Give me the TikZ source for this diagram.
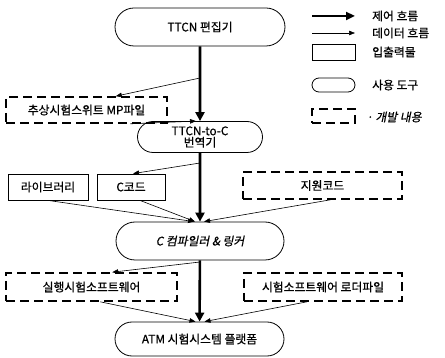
\documentclass[tikz,border=0pt]{standalone}
\usepackage{fontspec}
\setmainfont{Noto Sans CJK KR}[FakeBold=0.6]
\newfontfamily\krslant{Noto Sans CJK KR}[FakeSlant=0.2,FakeBold=0.6]
\usetikzlibrary{arrows.meta,shapes.misc,calc}
\begin{document}
\begin{tikzpicture}[x=1pt,y=-1pt,
  every node/.style={font=\fontsize{11.8}{13.5}\selectfont},
  io/.style={draw,line width=0.8pt,inner sep=0pt},
  dev/.style={draw,line width=1.6pt,dash pattern=on 9pt off 5pt,inner sep=0pt},
  tool/.style={draw,rounded rectangle,line width=0.8pt,inner sep=0pt},
  ctrl/.style={line width=2.6pt,-{Triangle[length=9pt,width=9pt]}},
  data/.style={line width=0.6pt,-{Triangle[length=6pt,width=4.5pt]}},
  lbl/.style={anchor=west,inner sep=0pt}]
\useasboundingbox (0,0) rectangle (445,358);

% main nodes
\node[tool,minimum width=170pt,minimum height=38pt] (ttcn) at (200,27) {TTCN 편집기};
\node[dev,minimum width=161pt,minimum height=26pt] (mp) at (86.5,110) {추상시험스위트 MP파일};
\node[tool,minimum width=125pt,minimum height=31pt,align=center] (t2c) at (200,137)
  {TTCN-to-C\\[-2pt]번역기};
\node[io,minimum width=80pt,minimum height=26pt] (lib) at (48,187) {라이브러리};
\node[io,minimum width=68pt,minimum height=26pt] (ccode) at (131,187) {C코드};
\node[dev,minimum width=159pt,minimum height=27pt] (sup) at (322.5,185.5) {지원코드};
\node[tool,minimum width=168pt,minimum height=38pt] (cc) at (200,241) {\krslant C 컴파일러 \& 링커};
\node[dev,minimum width=171pt,minimum height=28pt] (exe) at (91.5,287) {실행시험소프트웨어};
\node[dev,minimum width=158pt,minimum height=28pt] (loader) at (323,287) {시험소프트웨어 로더파일};
\node[tool,minimum width=169pt,minimum height=34pt] (atm) at (199.5,339) {ATM 시험시스템 플랫폼};

% control flow
\draw[ctrl] (ttcn) -- (t2c);
\draw[ctrl] (t2c) -- (cc);
\draw[ctrl] (cc) -- (atm);

% branch points on control flow
\coordinate (b1) at (200,78);
\coordinate (b2) at (200,163);
\coordinate (b3) at (200,262);

% data flow
\draw[data] (b1) -- ($(mp.north west)!0.68!(mp.north east)$);
\draw[data] ($(mp.south west)!0.77!(mp.south east)$) -- ($(t2c.north)+(-4,0)$);
\draw[data] (b2) -- ($(ccode.north west)!0.53!(ccode.north east)$);
\draw[data] (lib.south) -- ($(cc.north)+(-6,0)$);
\draw[data] ($(ccode.south west)!0.63!(ccode.south east)$) -- ($(cc.north)+(-5,0)$);
\draw[data] ($(sup.south west)!0.55!(sup.south east)$) -- ($(cc.north)+(4,0)$);
\draw[data] (b3) -- ($(exe.north west)!0.62!(exe.north east)$);
\draw[data] ($(exe.south west)!0.55!(exe.south east)$) -- ($(atm.north)+(-4,0)$);
\draw[data] ($(loader.south west)!0.4!(loader.south east)$) -- ($(atm.north)+(5,0)$);

% legend
\coordinate (la1) at (312,16);
\coordinate (lb1) at (355,16);
\draw[ctrl,-{Triangle[length=9pt,width=8pt]}] (la1) -- (lb1);
\node[lbl] (t1) at (372,16) {제어 흐름};
\coordinate (la2) at (312,33);
\coordinate (lb2) at (355,33);
\draw[data] (la2) -- (lb2);
\node[lbl] (t2) at (372,33) {데이터 흐름};
\node[io,minimum width=43pt,minimum height=16pt] (lio) at (333.5,52) {};
\node[lbl] (t3) at (372,52) {입출력물};
\node[tool,minimum width=43pt,minimum height=14pt] (ltool) at (333.5,85) {};
\node[lbl] (t4) at (372,85) {사용 도구};
\node[dev,minimum width=43pt,minimum height=14pt] (ldev) at (333.5,116) {};
\node[lbl] (t5) at (366,117) {\krslant · 개발 내용};
\end{tikzpicture}
\end{document}
